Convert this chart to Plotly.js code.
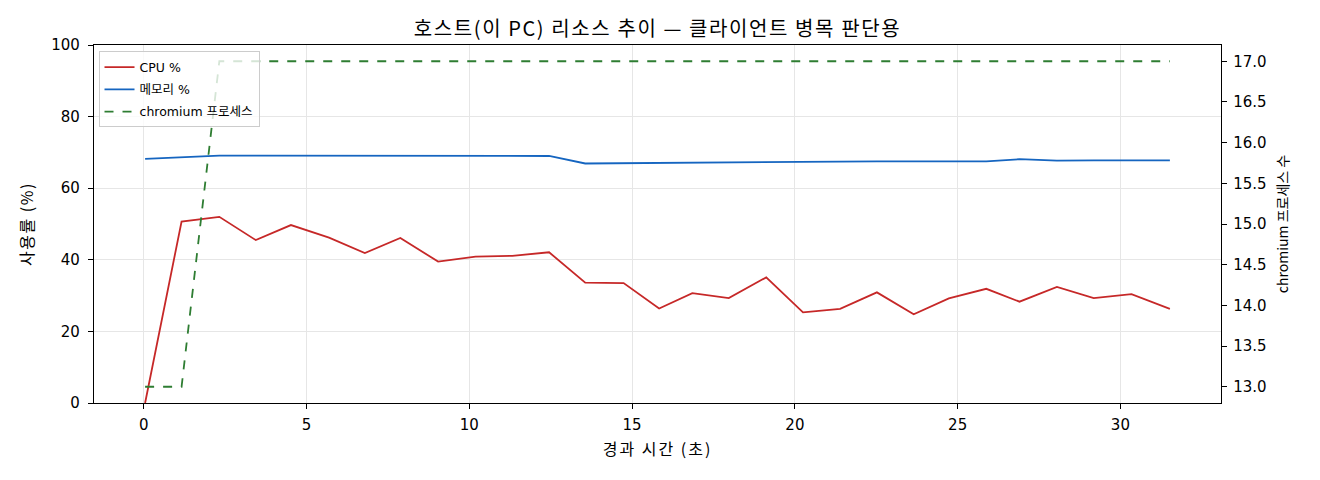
<!DOCTYPE html>
<html>
<head>
<meta charset="utf-8">
<script src="https://cdn.plot.ly/plotly-3.0.1.min.js"></script>
<style>
  html, body { margin: 0; padding: 0; background: #fff; }
  #graph1 { width: 1320px; height: 480px; }
  /* reference font is wider than Noto CJK, stretch a bit */
  #graph1 .gtitle { letter-spacing: 1.6px; }
  #graph1 .xtitle { letter-spacing: 2px; }
  #graph1 .ytitle { letter-spacing: 1.5px; }
</style>
</head>
<body>
<div id="graph1"></div>
<script>
// elapsed seconds
let tVals = [0.04, 1.16, 2.32, 3.44, 4.52, 5.69, 6.79, 7.88, 9.04, 10.19, 11.32, 12.45, 13.56, 14.74,
             15.83, 16.85, 17.97, 19.12, 20.25, 21.39, 22.52, 23.65, 24.73, 25.88, 26.90, 28.05, 29.18, 30.34, 31.52];
let cpuVals = [0, 50.7, 52.0, 45.5, 49.7, 46.2, 41.9, 46.1, 39.5, 40.9, 41.1, 42.1, 33.6, 33.5,
               26.4, 30.7, 29.3, 35.1, 25.3, 26.3, 30.9, 24.8, 29.2, 31.9, 28.3, 32.4, 29.3, 30.4, 26.3];
let memVals = [68.2, 68.7, 69.1, 69.1, 69.1, 69.1, 69.1, 69.1, 69.1, 69.1, 69.1, 69.0, 66.9, 67.0,
               67.0, 67.2, 67.3, 67.4, 67.4, 67.4, 67.5, 67.5, 67.6, 67.5, 68.1, 67.7, 67.8, 67.9, 67.8];
let procVals = [13, 13, 17, 17, 17, 17, 17, 17, 17, 17, 17, 17, 17, 17,
                17, 17, 17, 17, 17, 17, 17, 17, 17, 17, 17, 17, 17, 17, 17];

let xTicks = [0, 5, 10, 15, 20, 25, 30];
let yTicks = [0, 20, 40, 60, 80, 100];
let y2Ticks = [13.0, 13.5, 14.0, 14.5, 15.0, 15.5, 16.0, 16.5, 17.0];

let tickFam = "'DejaVu Sans', 'Noto Sans CJK KR', sans-serif";
let textFam = "'Noto Sans CJK KR', 'DejaVu Sans', sans-serif";

let trace1 = {
    x: tVals, y: cpuVals, name: 'CPU %', type: 'scatter', mode: 'lines', legendgroup: 'a',
    line: {color: '#c62828', width: 1.8}
};
let trace2 = {
    x: tVals, y: memVals, name: '메모리 %', type: 'scatter', mode: 'lines', legendgroup: 'b',
    line: {color: '#1565c0', width: 1.8}
};
let trace3 = {
    x: tVals, y: procVals, name: 'chromium 프로세스', type: 'scatter', mode: 'lines', legendgroup: 'c',
    yaxis: 'y2',
    line: {color: '#2e7d32', width: 1.8, dash: 'dash'}
};

let axisCommon = {
    showline: true, linecolor: '#000', linewidth: 1.2,
    ticks: 'outside', ticklen: 5, tickwidth: 1, tickcolor: '#000',
    tickfont: {size: 15, color: '#000', family: tickFam},
    zeroline: false
};

let layout = {
    width: 1320, height: 480,
    margin: {l: 94, r: 99, t: 45, b: 77},
    paper_bgcolor: '#fff', plot_bgcolor: '#fff',
    font: {family: textFam, color: '#000'},
    title: {
        text: '호스트(이 PC) 리소스 추이 — 클라이언트 병목 판단용',
        font: {size: 20, color: '#000', family: textFam},
        x: 0.5, xref: 'paper', y: 1 - 29 / 480, yref: 'container', yanchor: 'middle'
    },
    xaxis: Object.assign({}, axisCommon, {
        range: [-1.53, 33.09], tickvals: xTicks, mirror: true,
        showgrid: true, gridcolor: '#e6e6e6', gridwidth: 1,
        ticklabelstandoff: 3,
        title: {text: '경과 시간 (초)', font: {size: 16, family: textFam}, standoff: 10}
    }),
    yaxis: Object.assign({}, axisCommon, {
        range: [0, 100], tickvals: yTicks,
        showgrid: true, gridcolor: '#e6e6e6', gridwidth: 1,
        ticklabelstandoff: 5,
        title: {text: '사용률 (%)', font: {size: 16, family: textFam}, standoff: 13}
    }),
    yaxis2: Object.assign({}, axisCommon, {
        overlaying: 'y', side: 'right',
        range: [12.8, 17.2], tickvals: y2Ticks, ticktext: y2Ticks.map(v => v.toFixed(1)),
        showgrid: false,
        ticklabelstandoff: 3,
        title: {text: 'chromium 프로세스 수', font: {size: 14, family: textFam}, standoff: 12}
    }),
    showlegend: true,
    legend: {
        x: 0.004, y: 0.982, xanchor: 'left', yanchor: 'top',
        bgcolor: 'rgba(255,255,255,0.8)', bordercolor: '#cccccc', borderwidth: 1,
        font: {size: 12.5, color: '#000', family: tickFam},
        itemwidth: 30, tracegroupgap: 3
    }
};

Plotly.newPlot('graph1', [trace1, trace2, trace3], layout, {displayModeBar: false, staticPlot: true});
</script>
</body>
</html>
